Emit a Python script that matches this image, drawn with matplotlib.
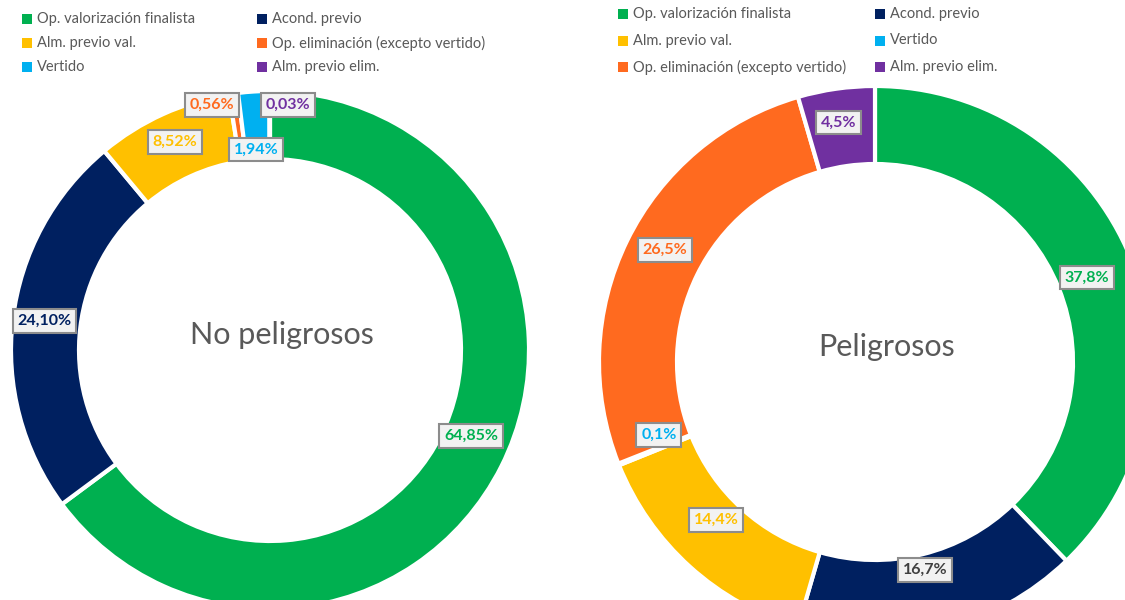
"""Two donut charts: waste treatment split, non-hazardous vs hazardous."""
import matplotlib
matplotlib.use("Agg")
import matplotlib.pyplot as plt
import numpy as np

plt.rcParams["font.family"] = ["Lato", "DejaVu Sans"]

# --- data -----------------------------------------------------------------
left_labels = ["Op. valorización finalista", "Acond. previo", "Alm. previo val.",
               "Op. eliminación (excepto vertido)", "Vertido", "Alm. previo elim."]
left_values = [64.85, 24.10, 8.52, 0.56, 1.94, 0.03]
left_text = ["64,85%", "24,10%", "8,52%", "0,56%", "1,94%", "0,03%"]

right_labels = ["Op. valorización finalista", "Acond. previo", "Alm. previo val.",
                "Vertido", "Op. eliminación (excepto vertido)", "Alm. previo elim."]
right_values = [37.8, 16.7, 14.4, 0.1, 26.5, 4.5]
right_text = ["37,8%", "16,7%", "14,4%", "0,1%", "26,5%", "4,5%"]

colors = {
    "Op. valorización finalista": "#00B050",
    "Acond. previo": "#002060",
    "Alm. previo val.": "#FFC000",
    "Op. eliminación (excepto vertido)": "#FF6A1F",
    "Vertido": "#00B0F0",
    "Alm. previo elim.": "#7030A0",
}

# label nudges in pixels (screen: +x right, +y down), like Excel's moved labels
left_nudge = [(0, -15), (-2, -2), (-2, -3), (-26, -22), (0, 24), (18, -20)]
right_nudge = [(-8, 4), (-7, -22), (0, -18), (4, -15), (3, -8), (-3, -5)]

W, H = 1125, 600
fig = plt.figure(figsize=(W / 100, H / 100), dpi=100)
ax = fig.add_axes([0, 0, 1, 1])


def donut(labels, values, texts, nudges, cx, cy, r_out, r_in, title,
          text_colors=None):
    y = H - cy
    cols = [colors[k] for k in labels]
    ax.pie(values, colors=cols, center=(cx, y), radius=r_out,
           startangle=90, counterclock=False,
           wedgeprops=dict(width=r_out - r_in, edgecolor="white", linewidth=3))
    total = sum(values)
    cum = 0.0
    r_mid = (r_out + r_in) / 2
    text_colors = text_colors or {}
    for v, t, lab, (dx, dy) in zip(values, texts, labels, nudges):
        mid = (cum + v / 2) / total * 2 * np.pi
        cum += v
        px = cx + r_mid * np.sin(mid) + dx
        py = cy - r_mid * np.cos(mid) + dy
        ax.text(px, H - py, t, ha="center", va="center", fontsize=11.5,
                fontweight="bold", color=text_colors.get(lab, colors[lab]),
                bbox=dict(boxstyle="square,pad=0.3", facecolor="#F2F2F2",
                          edgecolor="#8C8C8C", linewidth=1.5))
    ax.text(cx + 12, y + 15, title, ha="center", va="center",
            fontsize=22, color="#595959")


def legend(labels, x0, col_dx, y0, row_dy):
    for i, lab in enumerate(labels):
        x = x0 + (i % 2) * col_dx
        y = H - (y0 + (i // 2) * row_dy)
        ax.scatter([x], [y], marker="s", s=45, color=colors[lab],
                   linewidths=0, clip_on=False)
        ax.text(x + 10, y, lab, ha="left", va="center", fontsize=10.5,
                color="#595959")


donut(left_labels, left_values, left_text, left_nudge,
      270, 350, 259, 191, "No peligrosos")
donut(right_labels, right_values, right_text, right_nudge,
      875, 362, 276, 198, "Peligrosos",
      text_colors={"Acond. previo": "#404040"})

legend(left_labels, 27, 235, 19, 24)
legend(right_labels, 623, 257, 14, 26.5)

ax.set_xlim(0, W)
ax.set_ylim(0, H)
ax.set_aspect("equal")
ax.axis("off")

fig.savefig("out.png", dpi=100, facecolor="white")
